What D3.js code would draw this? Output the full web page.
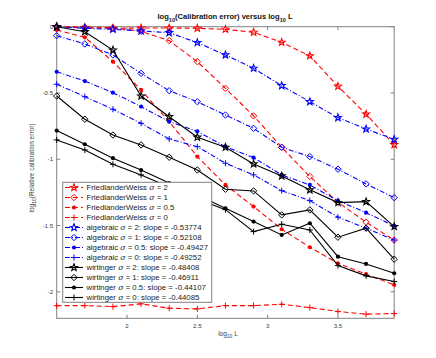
<!DOCTYPE html>
<html><head><meta charset="utf-8">
<script src="https://cdn.jsdelivr.net/npm/d3@7"></script>
<style>body{margin:0;background:#fff}svg{display:block}text{font-family:"Liberation Sans",Arial,sans-serif}</style>
</head><body><svg id="c" width="436" height="358"></svg>
<script>
const xVals = [1.5,1.7,1.9,2.1,2.3,2.5,2.7,2.9,3.1,3.3,3.5,3.7,3.9];
const xTicks = [2,2.5,3,3.5];
const yTicks = [0,-0.5,-1,-1.5,-2];
const fw2  = [0,-0.008,-0.012,-0.01,-0.01,-0.012,-0.02,-0.042,-0.118,-0.22,-0.45,-0.66,-0.89];
const fw1  = [0,-0.002,-0.008,-0.035,-0.105,-0.264,-0.465,-0.673,-0.91,-1.13,-1.325,-1.475,-1.61];
const fw05 = [-0.025,-0.08,-0.264,-0.477,-0.716,-0.98,-1.194,-1.357,-1.528,-1.664,-1.785,-1.867,-1.948];
const fw0  = [-2.105,-2.104,-2.112,-2.091,-2.124,-2.129,-2.104,-2.104,-2.094,-2.119,-2.149,-2.169,-2.164];
const alg2 = [0,-0.012,-0.02,-0.032,-0.045,-0.12,-0.213,-0.314,-0.445,-0.566,-0.686,-0.772,-0.85];
const alg1 = [-0.068,-0.13,-0.213,-0.352,-0.483,-0.566,-0.666,-0.767,-0.91,-0.98,-1.075,-1.186,-1.29];
const alg05= [-0.34,-0.41,-0.498,-0.603,-0.716,-0.79,-0.905,-0.988,-1.118,-1.194,-1.312,-1.403,-1.503];
const alg0 = [-0.434,-0.528,-0.623,-0.729,-0.847,-0.905,-1.03,-1.118,-1.237,-1.312,-1.437,-1.52,-1.61];
const wir2 = [0,-0.038,-0.176,-0.523,-0.679,-0.834,-0.91,-1.035,-1.126,-1.231,-1.327,-1.32,-1.508];
const wir1 = [-0.523,-0.698,-0.817,-0.892,-0.985,-1.081,-1.226,-1.239,-1.42,-1.382,-1.588,-1.52,-1.754];
const wir05= [-0.784,-0.887,-0.992,-1.081,-1.18,-1.27,-1.37,-1.47,-1.571,-1.483,-1.735,-1.79,-1.86];
const wir0 = [-0.854,-0.93,-1.038,-1.118,-1.21,-1.30,-1.38,-1.546,-1.49,-1.533,-1.802,-1.88,-1.923];
const labels = [
 ["FriedlanderWeiss ","2",""],["FriedlanderWeiss ","1",""],["FriedlanderWeiss ","0.5",""],["FriedlanderWeiss ","0",""],
 ["algebraic ","2",": slope = -0.53774"],["algebraic ","1",": slope = -0.52108"],["algebraic ","0.5",": slope = -0.49427"],["algebraic ","0",": slope = -0.49252"],
 ["wirtinger ","2",": slope = -0.48408"],["wirtinger ","1",": slope = -0.46911"],["wirtinger ","0.5",": slope = -0.44107"],["wirtinger ","0",": slope = -0.44085"]];
const seriesData = [fw2,fw1,fw05,fw0,alg2,alg1,alg05,alg0,wir2,wir1,wir05,wir0];
const colors = ["#ff0000","#0000ff","#000000"];
const markers = ["star","diamond","dot","plus"];
const dashes = ["5,3","5,2,1,2",null];

const svg = d3.select("#c");
const x = d3.scaleLinear().domain([1.5,3.9]).range([56.7,394.2]);
const y = d3.scaleLinear().domain([-2.2,0]).range([318.3,26.7]);
const axisCol = "#808080", txtCol = "#404040";

svg.append("rect").attr("x",x(1.5)).attr("y",y(0)).attr("width",x(3.9)-x(1.5)).attr("height",y(-2.2)-y(0))
  .attr("fill","none").attr("stroke",axisCol).attr("stroke-width",1);
const tl = 3.5;
xTicks.forEach(t=>{
  svg.append("line").attr("x1",x(t)).attr("x2",x(t)).attr("y1",y(-2.2)).attr("y2",y(-2.2)-tl).attr("stroke",axisCol);
  svg.append("line").attr("x1",x(t)).attr("x2",x(t)).attr("y1",y(0)).attr("y2",y(0)+tl).attr("stroke",axisCol);
  svg.append("text").attr("x",x(t)).attr("y",y(-2.2)+10).attr("text-anchor","middle").attr("font-size",6.2).attr("fill",txtCol).text(t);
});
yTicks.forEach(t=>{
  svg.append("line").attr("x1",x(1.5)).attr("x2",x(1.5)+tl).attr("y1",y(t)).attr("y2",y(t)).attr("stroke",axisCol);
  svg.append("line").attr("x1",x(3.9)).attr("x2",x(3.9)-tl).attr("y1",y(t)).attr("y2",y(t)).attr("stroke",axisCol);
  svg.append("text").attr("x",x(1.5)-3.5).attr("y",y(t)+2.2).attr("text-anchor","end").attr("font-size",6.2).attr("fill",txtCol).text(t);
});
const title = svg.append("text").attr("x",225).attr("y",19).attr("text-anchor","middle").attr("font-size",7.6).attr("font-weight","bold").attr("fill","#111");
title.append("tspan").text("log");
title.append("tspan").attr("dy",2.5).attr("font-size",5.5).text("10");
title.append("tspan").attr("dy",-2.5).text("(Calibration error) versus log");
title.append("tspan").attr("dy",2.5).attr("font-size",5.5).text("10");
title.append("tspan").attr("dy",-2.5).text(" L");
const xl = svg.append("text").attr("x",228).attr("y",336).attr("text-anchor","middle").attr("font-size",6.5).attr("fill",txtCol);
xl.append("tspan").text("log");
xl.append("tspan").attr("dy",2).attr("font-size",5).text("10");
xl.append("tspan").attr("dy",-2).text(" L");
const yl = svg.append("text").attr("transform","translate(34,168) rotate(-90)").attr("text-anchor","middle").attr("font-size",6.5).attr("fill",txtCol);
yl.append("tspan").text("log");
yl.append("tspan").attr("dy",2).attr("font-size",5).text("10");
yl.append("tspan").attr("dy",-2).text("(Relative calibration error)");

function starPath(cx,cy,R){
  const r = R*0.42; let p="";
  for(let j=0;j<10;j++){
    const a = -Math.PI/2 + j*Math.PI/5, rr = j%2?r:R;
    p += (j?"L":"M") + (cx+rr*Math.cos(a)).toFixed(2) + "," + (cy+rr*Math.sin(a)).toFixed(2);
  }
  return p+"Z";
}
function drawMarker(g, type, cx, cy, col){
  if(type==="star"){
    g.append("path").attr("d",starPath(cx,cy,3.7)).attr("fill","none").attr("stroke",col).attr("stroke-width",1.1);
  } else if(type==="diamond"){
    const r=3.2;
    g.append("path").attr("d",`M${cx},${cy-r}L${cx+r},${cy}L${cx},${cy+r}L${cx-r},${cy}Z`)
     .attr("fill","none").attr("stroke",col).attr("stroke-width",1);
  } else if(type==="dot"){
    g.append("circle").attr("cx",cx).attr("cy",cy).attr("r",2.1).attr("fill",col);
  } else {
    const r=3;
    g.append("path").attr("d",`M${cx-r},${cy}H${cx+r}M${cx},${cy-r}V${cy+r}`).attr("stroke",col).attr("stroke-width",1);
  }
}
const line = d3.line().x((d,i)=>x(xVals[i])).y(d=>y(d));
seriesData.forEach((s,k)=>{
  const grp = Math.floor(k/4), col = colors[grp], mk = markers[k%4];
  const g = svg.append("g");
  g.append("path").attr("d",line(s)).attr("fill","none").attr("stroke",col).attr("stroke-width",1.1)
   .attr("stroke-dasharray",dashes[grp]);
  s.forEach((v,i)=>drawMarker(g,mk,x(xVals[i]),y(v),col));
});
const lg = svg.append("g");
lg.append("rect").attr("x",62.7).attr("y",182.3).attr("width",149).attr("height",120).attr("fill","#fff").attr("stroke",axisCol).attr("stroke-width",1);
labels.forEach((lb,k)=>{
  const grp = Math.floor(k/4), col = colors[grp], mk = markers[k%4];
  const yy = 187.5 + k*10;
  lg.append("line").attr("x1",65).attr("x2",83).attr("y1",yy).attr("y2",yy).attr("stroke",col).attr("stroke-width",1.1).attr("stroke-dasharray",dashes[grp]);
  drawMarker(lg,mk,74,yy,col);
  const t = lg.append("text").attr("x",86.5).attr("y",yy+2.7).attr("font-size",7.8).attr("fill","#222");
  t.append("tspan").text(lb[0]);
  t.append("tspan").attr("font-style","italic").attr("font-family","'DejaVu Serif',serif").text("σ");
  t.append("tspan").text(" = "+lb[1]+lb[2]);
});
</script></body></html>
